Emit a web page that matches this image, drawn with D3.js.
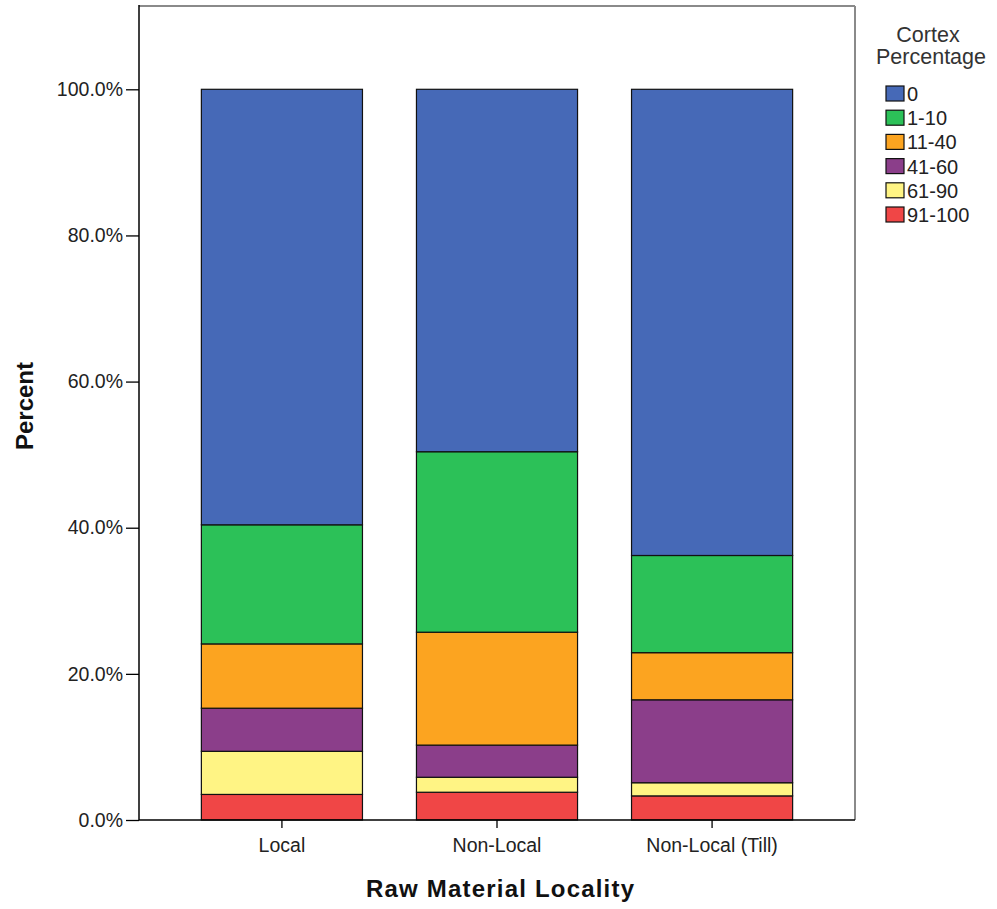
<!DOCTYPE html>
<html><head><meta charset="utf-8">
<script src="https://cdn.jsdelivr.net/npm/d3@7"></script>
<style>body{margin:0;background:#fff}svg{display:block;font-family:"Liberation Sans",Arial,sans-serif}</style>
</head><body><svg id="c" width="997" height="909"></svg>
<script>
const categories = ["Local", "Non-Local", "Non-Local (Till)"];
const seriesNames = ["0", "1-10", "11-40", "41-60", "61-90", "91-100"];
const v0 = [59.6, 49.6, 63.8];
const v1_10 = [16.3, 24.7, 13.3];
const v11_40 = [8.8, 15.45, 6.45];
const v41_60 = [5.9, 4.4, 11.35];
const v61_90 = [5.9, 2.05, 1.8];
const v91_100 = [3.5, 3.8, 3.3];
const yTicks = [0, 20, 40, 60, 80, 100];
const colors = ["#4669b7", "#2cc158", "#fca420", "#8b3e8a", "#fff484", "#f04646"];

const seriesValues = [v0, v1_10, v11_40, v41_60, v61_90, v91_100];
const rows = categories.map((c, i) => {
  const r = {cat: c};
  seriesNames.forEach((s, j) => r[s] = seriesValues[j][i]);
  return r;
});
// stack from bottom: 91-100 first
const stackKeys = seriesNames.slice().reverse();
const stacked = d3.stack().keys(stackKeys)(rows);

const svg = d3.select("#c");
const L = 139, R = 855, T = 6, B = 820;
const x = d3.scaleBand().domain(categories).range([L, R]).paddingInner(0.251).paddingOuter(0.29);
const y = d3.scaleLinear().domain([0, 100]).range([B, 89.3]);
const color = d3.scaleOrdinal().domain(seriesNames).range(colors);

// frame
svg.append("line").attr("x1", L).attr("x2", R).attr("y1", T).attr("y2", T).attr("stroke", "#8a8a8a").attr("stroke-width", 2);
svg.append("line").attr("x1", R).attr("x2", R).attr("y1", T).attr("y2", B).attr("stroke", "#8a8a8a").attr("stroke-width", 2);

// bars
svg.append("g").selectAll("g").data(stacked).join("g")
  .attr("fill", d => color(d.key))
  .selectAll("rect").data(d => d).join("rect")
  .attr("x", d => x(d.data.cat))
  .attr("width", x.bandwidth())
  .attr("y", d => y(d[1]))
  .attr("height", d => y(d[0]) - y(d[1]))
  .attr("stroke", "#111").attr("stroke-width", 1.2);

// y axis
const ya = svg.append("g").attr("transform", `translate(${L},0)`)
  .call(d3.axisLeft(y).tickValues(yTicks).tickFormat(d => d.toFixed(1) + "%").tickSize(13).tickSizeOuter(0));
ya.select(".domain").remove();
ya.selectAll("line").attr("stroke", "#000").attr("stroke-width", 1.3);
ya.selectAll("text").attr("font-size", 19.5).attr("fill", "#222").attr("x", -16).attr("font-family", "Liberation Sans, Arial, sans-serif");
svg.append("line").attr("x1", L).attr("x2", L).attr("y1", T - 1).attr("y2", B).attr("stroke", "#000").attr("stroke-width", 1.5);

// x axis
const xa = svg.append("g").attr("transform", `translate(0,${B})`)
  .call(d3.axisBottom(x).tickSize(8).tickSizeOuter(0));
xa.select(".domain").remove();
xa.selectAll("line").attr("stroke", "#000").attr("stroke-width", 1.3);
xa.selectAll("text").attr("font-size", 19.5).attr("fill", "#222").attr("y", 18).attr("dy", "0.71em").attr("font-family", "Liberation Sans, Arial, sans-serif");
svg.append("line").attr("x1", L).attr("x2", R).attr("y1", B).attr("y2", B).attr("stroke", "#000").attr("stroke-width", 1.5);

// axis titles
svg.append("text").attr("x", 500).attr("y", 897).attr("text-anchor", "middle")
  .attr("font-size", 24).attr("font-weight", "bold").attr("fill", "#111")
  .attr("textLength", 268).attr("lengthAdjust", "spacing").text("Raw Material Locality");
svg.append("text").attr("transform", "translate(33,406) rotate(-90)").attr("text-anchor", "middle")
  .attr("font-size", 24).attr("font-weight", "bold").attr("fill", "#111").text("Percent");

// legend
svg.append("text").attr("x", 928).attr("y", 42).attr("text-anchor", "middle").attr("font-size", 21.5).attr("fill", "#333").text("Cortex");
svg.append("text").attr("x", 931).attr("y", 64).attr("text-anchor", "middle").attr("font-size", 21.5).attr("fill", "#333").text("Percentage");
const lg = svg.append("g").selectAll("g").data(seriesNames).join("g")
  .attr("transform", (d, i) => `translate(886,${86 + i * 24.2})`);
lg.append("rect").attr("width", 18).attr("height", 15).attr("fill", d => color(d)).attr("stroke", "#111").attr("stroke-width", 1.2);
lg.append("text").attr("x", 21).attr("y", 15).attr("font-size", 20).attr("fill", "#222").text(d => d);
</script></body></html>
